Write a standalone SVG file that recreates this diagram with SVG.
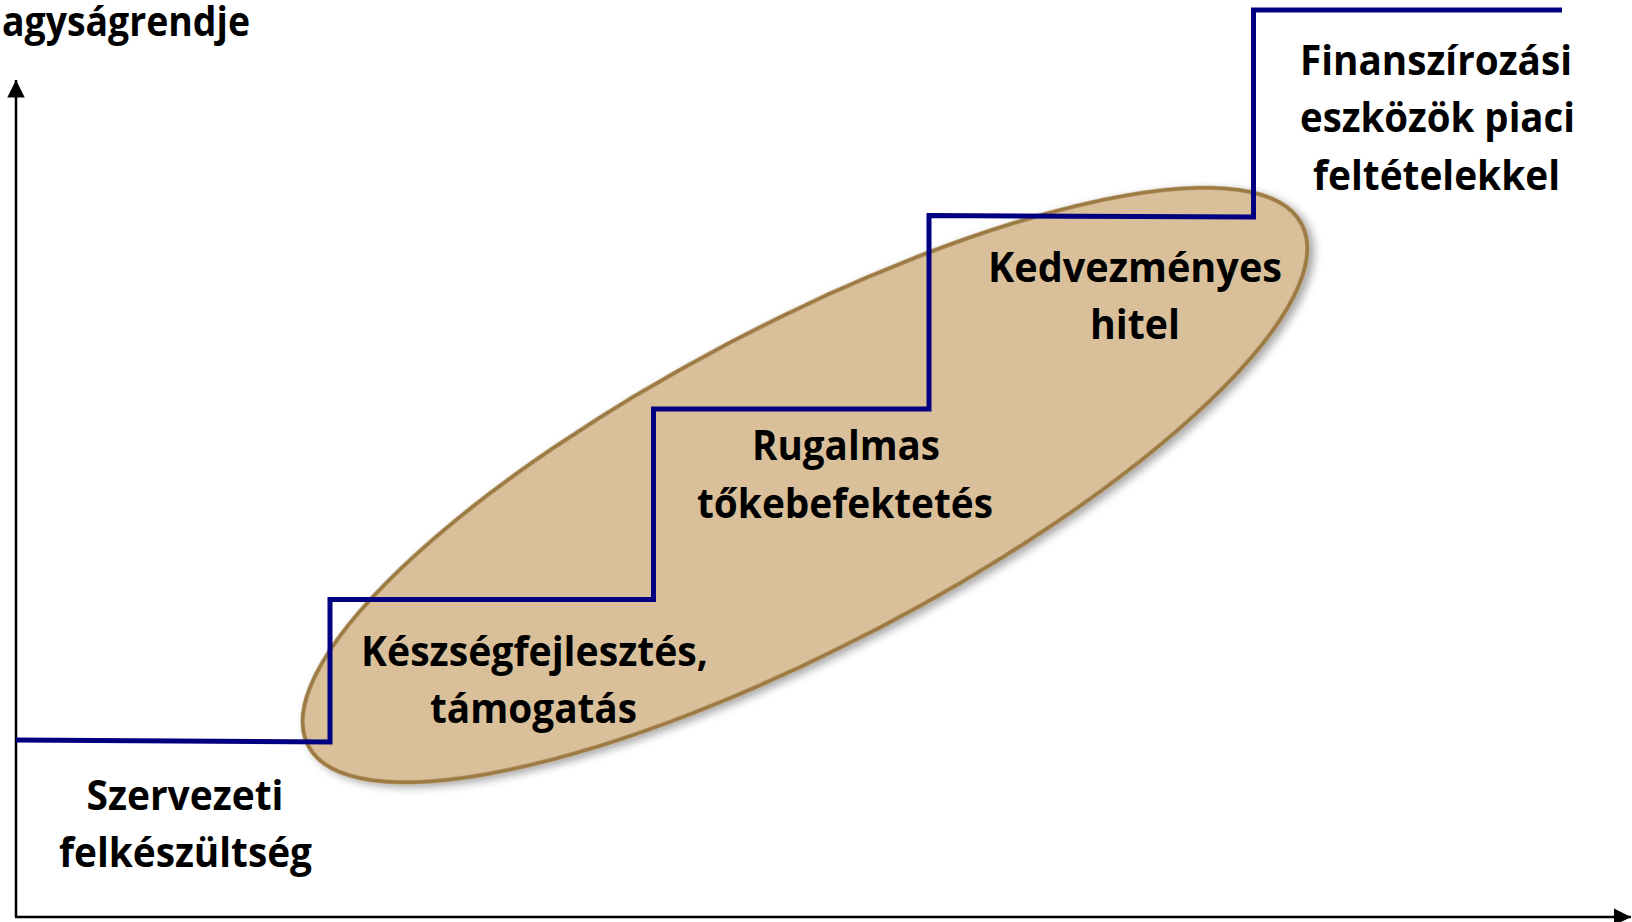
<svg xmlns="http://www.w3.org/2000/svg" width="1632" height="922" viewBox="0 0 1632 922">
  <defs>
    <style>
      .lbl { font-family: "Open Sans", "Liberation Sans", sans-serif; font-weight: 700; font-size: 42px; fill: #000; }
      .axis { stroke: #000; stroke-width: 2.5; fill: none; }
      .stair { stroke: #000080; stroke-width: 5; fill: none; stroke-linejoin: miter; }
    </style>
    <marker id="arrow" viewBox="0 0 10 10" refX="10" refY="5" markerWidth="7" markerHeight="7" markerUnits="strokeWidth" orient="auto">
      <path d="M0,0 L10,5 L0,10 Z" fill="#000"/>
    </marker>
    <filter id="shadow" x="-10%" y="-20%" width="120%" height="140%">
      <feDropShadow dx="3" dy="5" stdDeviation="4" flood-color="#000" flood-opacity="0.35"/>
    </filter>
  </defs>
  <rect width="1632" height="922" fill="#fff"/>

  <g id="ellipse">
    <ellipse cx="805" cy="485" rx="561" ry="161" transform="rotate(-27.7 805 485)" fill="#D9C09A" stroke="#9C7A42" stroke-width="4" filter="url(#shadow)"/>
  </g>

  <g id="connectors">
    <line id="y-axis" class="axis" x1="16" y1="917" x2="16" y2="80" marker-end="url(#arrow)"/>
    <line id="x-axis" class="axis" x1="15" y1="917" x2="1631" y2="917" marker-end="url(#arrow)"/>
    <path id="staircase" class="stair" d="M16,740 L330,742 L330,599.5 L653.5,599.5 L653.5,409 L929,409 L929,215.5 L1253.5,217 L1253.5,10 L1562,10"/>
  </g>

  <g id="y-title">
    <text class="lbl" x="2" y="36" font-size="40" textLength="248" lengthAdjust="spacingAndGlyphs">agyságrendje</text>
  </g>
  <g id="node-szervezeti">
    <text class="lbl" x="185" y="810" text-anchor="middle" textLength="197" lengthAdjust="spacingAndGlyphs">Szervezeti</text>
    <text class="lbl" x="185.5" y="867" text-anchor="middle" textLength="253" lengthAdjust="spacingAndGlyphs">felkészültség</text>
  </g>
  <g id="node-keszseg">
    <text class="lbl" x="534.5" y="666" text-anchor="middle" textLength="347" lengthAdjust="spacingAndGlyphs">Készségfejlesztés,</text>
    <text class="lbl" x="533.5" y="723" text-anchor="middle" textLength="207" lengthAdjust="spacingAndGlyphs">támogatás</text>
  </g>
  <g id="node-rugalmas">
    <text class="lbl" x="846" y="460" text-anchor="middle" textLength="188" lengthAdjust="spacingAndGlyphs">Rugalmas</text>
    <text class="lbl" x="845" y="518" text-anchor="middle" textLength="296" lengthAdjust="spacingAndGlyphs">tőkebefektetés</text>
  </g>
  <g id="node-kedvezmenyes">
    <text class="lbl" x="1135" y="282" text-anchor="middle" textLength="294" lengthAdjust="spacingAndGlyphs">Kedvezményes</text>
    <text class="lbl" x="1135" y="339" text-anchor="middle" textLength="90" lengthAdjust="spacingAndGlyphs">hitel</text>
  </g>
  <g id="node-finanszirozasi">
    <text class="lbl" x="1436" y="75" text-anchor="middle" textLength="272" lengthAdjust="spacingAndGlyphs">Finanszírozási</text>
    <text class="lbl" x="1437.5" y="132" text-anchor="middle" textLength="275" lengthAdjust="spacingAndGlyphs">eszközök piaci</text>
    <text class="lbl" x="1436.5" y="190" text-anchor="middle" textLength="247" lengthAdjust="spacingAndGlyphs">feltételekkel</text>
  </g>
</svg>
